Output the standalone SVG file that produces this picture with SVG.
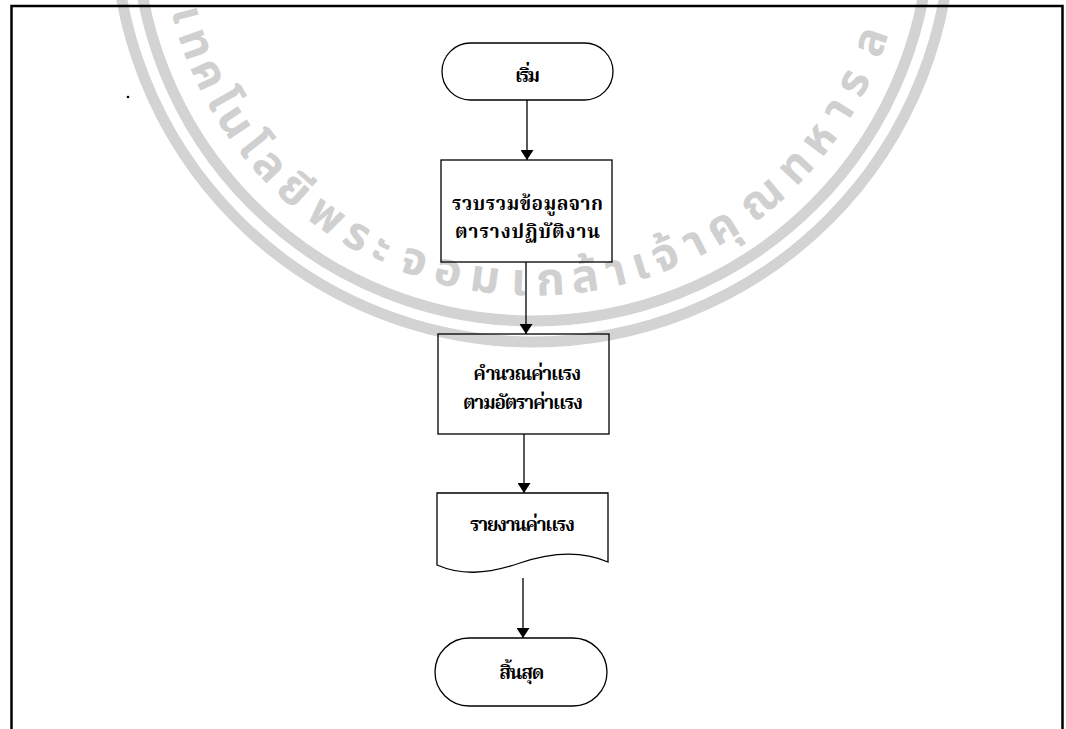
<svg xmlns="http://www.w3.org/2000/svg" xmlns:xlink="http://www.w3.org/1999/xlink" width="1066" height="729" viewBox="0 0 1066 729">
<style>
.wm{fill:none;stroke:#d3d3d3;stroke-width:11}
.wmt{fill:#d0d0d0;font-family:"Noto Sans Thai","Noto Serif Thai","Noto Sans","DejaVu Sans",sans-serif;font-size:46px;font-weight:bold;text-anchor:middle}
.node{fill:none;stroke:#000;stroke-width:1.3}
.lbl{fill:#000;font-family:"Noto Serif Thai","Noto Sans Thai","Noto Sans","DejaVu Sans",sans-serif;font-size:19px;font-weight:bold}
.edge{fill:none;stroke:#000;stroke-width:1.3}
</style>
<defs>
<marker id="ah" viewBox="0 0 10 13" refX="10" refY="6.5" markerWidth="10" markerHeight="13" markerUnits="userSpaceOnUse" orient="auto">
<path d="M0,0 L10,6.5 L0,13 Z" fill="#000"/>
</marker>
<path id="ring" d="M166.6,-140.6 A372,372 0 1 0 899.4,-140.6"/>
</defs>
<rect width="1066" height="729" fill="#fff"/>
<g id="watermark">
<circle class="wm" cx="533" cy="-76" r="418"/>
<circle class="wm" cx="533" cy="-76" r="397"/>
<text class="wmt"><textPath href="#ring" xlink:href="#ring" startOffset="160">เ</textPath></text>
<text class="wmt"><textPath href="#ring" xlink:href="#ring" startOffset="192">ท</textPath></text>
<text class="wmt"><textPath href="#ring" xlink:href="#ring" startOffset="226">ค</textPath></text>
<text class="wmt"><textPath href="#ring" xlink:href="#ring" startOffset="256">โ</textPath></text>
<text class="wmt"><textPath href="#ring" xlink:href="#ring" startOffset="283">น</textPath></text>
<text class="wmt"><textPath href="#ring" xlink:href="#ring" startOffset="313">โ</textPath></text>
<text class="wmt"><textPath href="#ring" xlink:href="#ring" startOffset="341">ล</textPath></text>
<text class="wmt"><textPath href="#ring" xlink:href="#ring" startOffset="377">ยี</textPath></text>
<text class="wmt"><textPath href="#ring" xlink:href="#ring" startOffset="420">พ</textPath></text>
<text class="wmt"><textPath href="#ring" xlink:href="#ring" startOffset="458">ร</textPath></text>
<text class="wmt"><textPath href="#ring" xlink:href="#ring" startOffset="487">ะ</textPath></text>
<text class="wmt"><textPath href="#ring" xlink:href="#ring" startOffset="523">จ</textPath></text>
<text class="wmt"><textPath href="#ring" xlink:href="#ring" startOffset="560">อ</textPath></text>
<text class="wmt"><textPath href="#ring" xlink:href="#ring" startOffset="599">ม</textPath></text>
<text class="wmt"><textPath href="#ring" xlink:href="#ring" startOffset="634">เ</textPath></text>
<text class="wmt"><textPath href="#ring" xlink:href="#ring" startOffset="667">ก</textPath></text>
<text class="wmt"><textPath href="#ring" xlink:href="#ring" startOffset="703">ล้</textPath></text>
<text class="wmt"><textPath href="#ring" xlink:href="#ring" startOffset="736">า</textPath></text>
<text class="wmt"><textPath href="#ring" xlink:href="#ring" startOffset="762">เ</textPath></text>
<text class="wmt"><textPath href="#ring" xlink:href="#ring" startOffset="790">จ้</textPath></text>
<text class="wmt"><textPath href="#ring" xlink:href="#ring" startOffset="823">า</textPath></text>
<text class="wmt"><textPath href="#ring" xlink:href="#ring" startOffset="856">คุ</textPath></text>
<text class="wmt"><textPath href="#ring" xlink:href="#ring" startOffset="907">ณ</textPath></text>
<text class="wmt"><textPath href="#ring" xlink:href="#ring" startOffset="955">ท</textPath></text>
<text class="wmt"><textPath href="#ring" xlink:href="#ring" startOffset="993">ห</textPath></text>
<text class="wmt"><textPath href="#ring" xlink:href="#ring" startOffset="1029">า</textPath></text>
<text class="wmt"><textPath href="#ring" xlink:href="#ring" startOffset="1062">ร</textPath></text>
<text class="wmt"><textPath href="#ring" xlink:href="#ring" startOffset="1108">ล</textPath></text>
</g>
<g id="frame" fill="none" stroke="#000" stroke-width="2.5">
<path d="M11.5,729 V6 H1062.5 V729"/>
<circle cx="128" cy="97" r="1.3" fill="#000" stroke="none"/>
</g>
<g id="connectors">
<line class="edge" x1="527" y1="100" x2="527" y2="160" marker-end="url(#ah)"/>
<line class="edge" x1="526" y1="262" x2="526" y2="334" marker-end="url(#ah)"/>
<line class="edge" x1="524" y1="434" x2="524" y2="493" marker-end="url(#ah)"/>
<line class="edge" x1="523" y1="578" x2="523" y2="638" marker-end="url(#ah)"/>
</g>
<g id="start">
<rect class="node" x="442" y="43" width="171" height="57" rx="28.5"/>
<text class="lbl" x="515" y="82" textLength="25" lengthAdjust="spacing">เริ่ม</text>
</g>
<g id="collect">
<rect class="node" x="441" y="160" width="171" height="102"/>
<text class="lbl" x="452" y="210" textLength="151" lengthAdjust="spacing">รวบรวมข้อมูลจาก</text>
<text class="lbl" x="455" y="238" textLength="145" lengthAdjust="spacing">ตารางปฏิบัติงาน</text>
</g>
<g id="calc">
<rect class="node" x="438" y="334" width="171" height="100"/>
<text class="lbl" x="472" y="380" textLength="108" lengthAdjust="spacing">คำนวณค่าแรง</text>
<text class="lbl" x="463" y="409" textLength="120" lengthAdjust="spacing">ตามอัตราค่าแรง</text>
</g>
<g id="report">
<path class="node" d="M437,565 V493 H608 V562 C585,552 555,551 520,563 C485,575 460,575 437,565 Z"/>
<text class="lbl" x="470" y="531" textLength="105" lengthAdjust="spacing">รายงานค่าแรง</text>
</g>
<g id="end">
<rect class="node" x="435" y="638" width="172" height="68" rx="34"/>
<text class="lbl" x="498" y="679" textLength="45" lengthAdjust="spacing">สิ้นสุด</text>
</g>
</svg>
